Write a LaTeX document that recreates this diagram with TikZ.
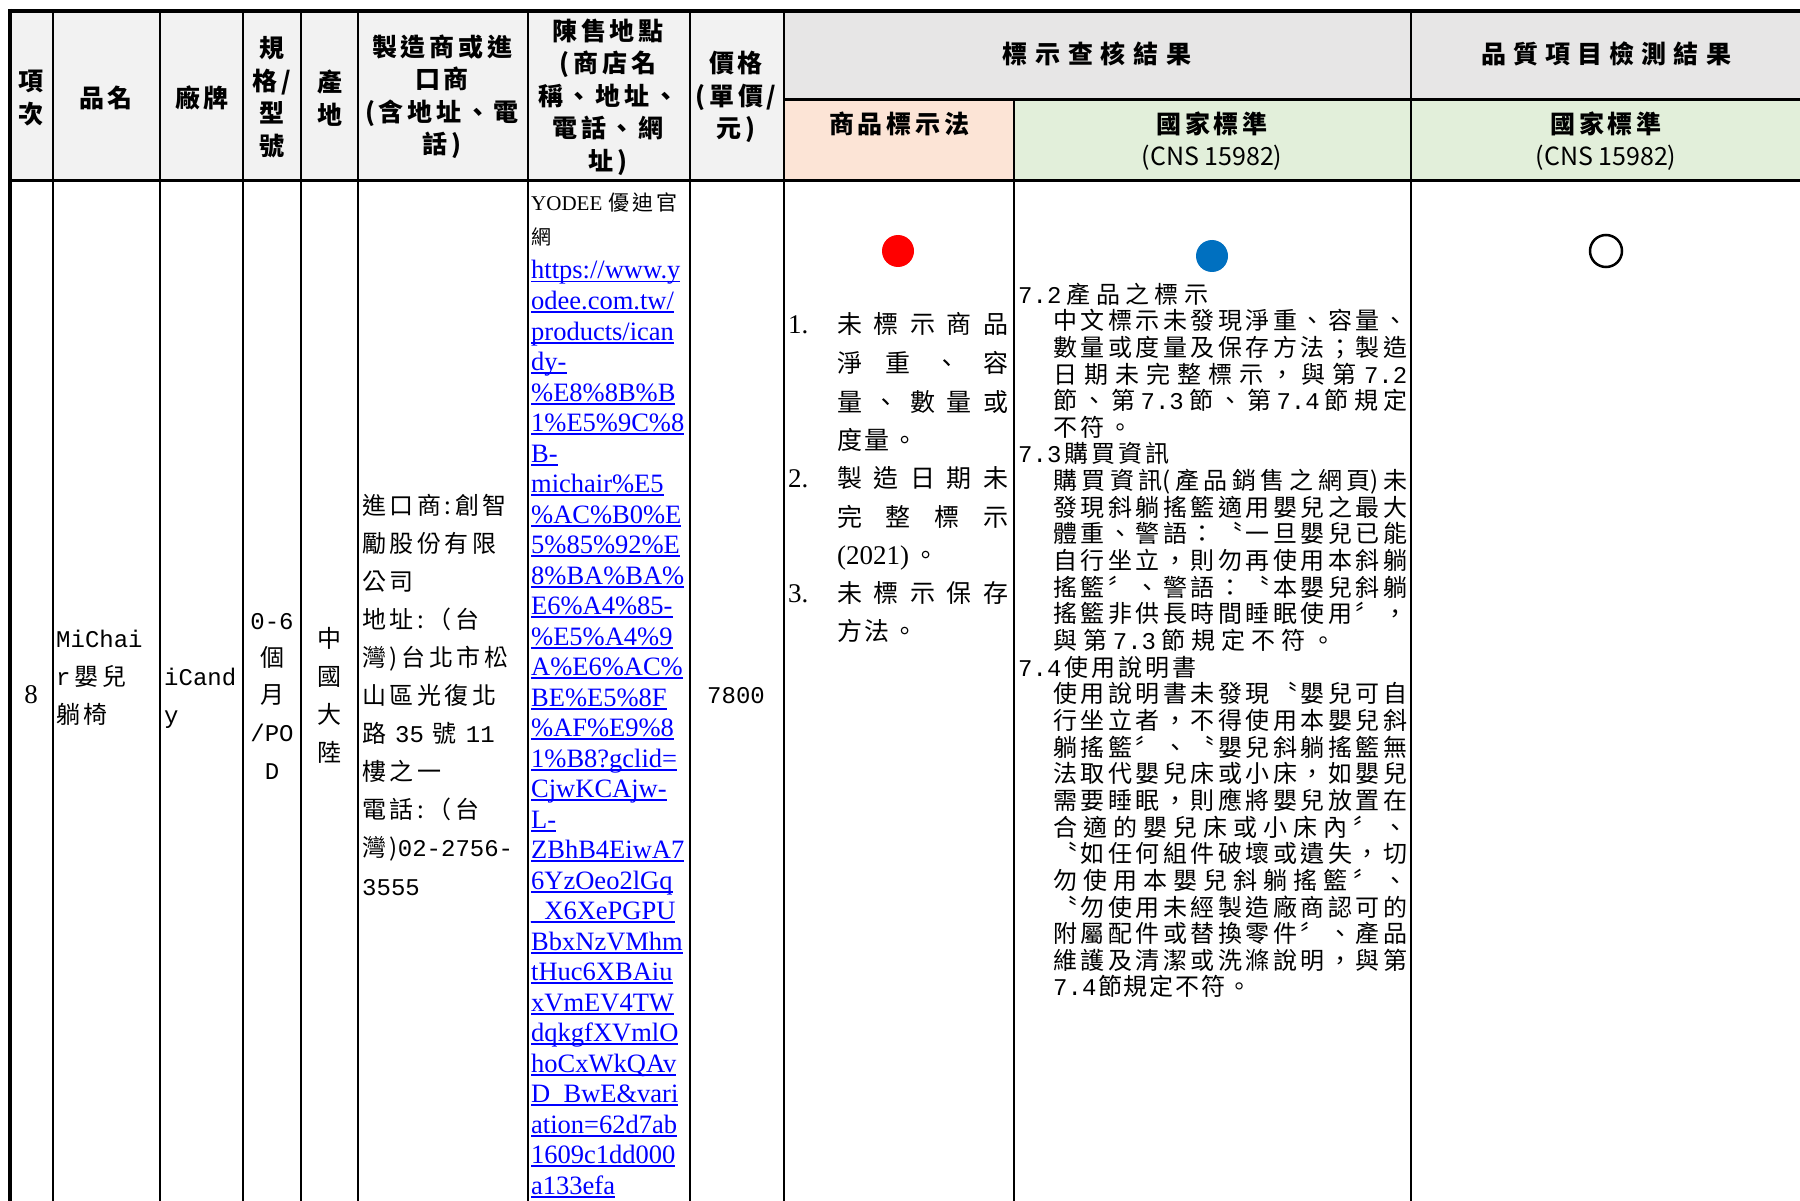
\documentclass[tikz,border=0pt]{standalone}
\usepackage{fontspec}
\setmainfont{Liberation Serif}
\newfontfamily\cjk{Noto Sans CJK TC}
\newfontfamily\cjks[LetterSpace=15]{Noto Sans CJK TC}
\newfontfamily\mono{Liberation Mono}
\definecolor{hdgray}{HTML}{F2F2F2}
\definecolor{topgray}{HTML}{E7E6E6}
\definecolor{lawpeach}{HTML}{FCE4D6}
\definecolor{cnsgreen}{HTML}{E2EFDA}
\definecolor{dotred}{HTML}{FF0000}
\definecolor{dotblue}{HTML}{0070C0}
\definecolor{linkblue}{HTML}{0000FF}
\def\sprd#1{\sprdB#1\relax}
\def\sprdB#1{{#1}\sprdA}
\def\sprdA#1{\ifx\relax#1\else\hfill{#1}\expandafter\sprdA\fi}
\newcommand\jl[2]{\hbox to #1pt{\sprd{#2}}}
\newcommand\ulink[1]{\setbox0\hbox{#1}\rlap{\rule[-3.5pt]{\wd0}{1.6pt}}\box0}

\begin{document}
\begin{tikzpicture}[x=1pt,y=-1pt,
  grid/.style={line width=2pt},
  frame/.style={line width=4pt},
  rule/.style={line width=3pt},
  hd/.style={font=\cjks\bfseries\fontsize{25}{32.5}\selectfont,align=center,inner sep=0pt},
  ming/.style={font=\cjks\fontsize{24}{30}\selectfont,anchor=base west,inner sep=0pt},
  just/.style={font=\cjk\fontsize{24}{30}\selectfont,anchor=base west,inner sep=0pt},
  lawtxt/.style={font=\cjk\fontsize{25}{30}\selectfont,anchor=base west,inner sep=0pt},
  roman/.style={font=\fontsize{27}{30}\selectfont,anchor=base west,inner sep=0pt},
  link/.style={font=\fontsize{26.5}{30}\selectfont,text=linkblue,anchor=base west,inner sep=0pt},
  dotmark/.style={circle,minimum size=32pt,inner sep=0pt}]
\useasboundingbox (0,0) rectangle (1800,1201);
\fill[white] (0,0) rectangle (1800,1201);
\fill[hdgray] (10,11) rectangle (784,181);
\fill[topgray] (784,11) rectangle (1800,100);
\fill[lawpeach] (784,100) rectangle (1014,181);
\fill[cnsgreen] (1014,100) rectangle (1800,181);

\node[hd] (h-no) at (31,98) {項\\次};
\node[hd] (h-name) at (106,98) {品名};
\node[hd] (h-brand) at (202,98) {廠牌};
\node[hd] (h-spec) at (272,97) {規\\格/\\型\\號};
\node[hd] (h-origin) at (330,98) {產\\地};
\node[hd] (h-maker) at (442,97) {製造商或進\\口商\\(含地址、電\\話)};
\node[hd] (h-shop) at (608,97) {陳售地點\\(商店名\\稱、地址、\\電話、網\\址)};
\node[hd] (h-price) at (736,97) {價格\\(單價/\\元)};
\node[hd] (h-label) at (1097,54) {\jl{189}{標示查核結果}};
\node[hd] (h-quality) at (1606,54) {\jl{250}{品質項目檢測結果}};
\node[hd] (h-law) at (899,124) {商品標示法};
\node[hd] (h-cns) at (1212,141) {國家標準\\{\cjk\mdseries (CNS 15982)}};
\node[hd] (h-qcns) at (1606,141) {國家標準\\{\cjk\mdseries (CNS 15982)}};

\node[roman,anchor=base] (no) at (31,703) {8};
\node[ming] (name-1) at (56,647) {\mono MiChai};
\node[ming] (name-2) at (56,685) {{\mono r}\hspace{4pt}嬰兒};
\node[ming] (name-3) at (56,723) {躺椅};
\node[ming] (brand-1) at (164,685) {\mono iCand};
\node[ming] (brand-2) at (164,723) {\mono y};
\node[ming,anchor=base] (spec-1) at (272,629) {\mono 0-6};
\node[ming,anchor=base] (spec-2) at (272,666) {個};
\node[ming,anchor=base] (spec-3) at (272,703) {月};
\node[ming,anchor=base] (spec-4) at (272,741) {\mono /PO};
\node[ming,anchor=base] (spec-5) at (272,779) {\mono D};
\node[ming,anchor=base] (origin-1) at (329,647) {中};
\node[ming,anchor=base] (origin-2) at (329,685) {國};
\node[ming,anchor=base] (origin-3) at (329,723) {大};
\node[ming,anchor=base] (origin-4) at (329,761) {陸};
\foreach \t [count=\i from 0] in {進口商:創智, 勵股份有限, 公司, 地址:（台,
    灣)台北市松, 山區光復北, 路 {\mono 35} 號 {\mono 11}, 樓之一, 電話:（台,
    灣){\mono 02-2756-}, {\mono 3555}}
  \node[ming] (maker-\i) at (362,514+38.1*\i) {\t};

\node[ming,font=\cjks\fontsize{21}{24}\selectfont] (shop-1) at (531,211) {{\rmfamily\fontsize{21}{24}\selectfont YODEE}\hspace{6pt}優迪官};
\node[ming,font=\cjk\fontsize{20}{22}\selectfont] (shop-2) at (531,245) {網};
\foreach \seg [count=\i from 0] in {https://www.y, odee.com.tw/, products/ican, dy-,
    \%E8\%8B\%B, 1\%E5\%9C\%8, B-, michair\%E5, \%AC\%B0\%E, 5\%85\%92\%E,
    8\%BA\%BA\%, E6\%A4\%85-, \%E5\%A4\%9, A\%E6\%AC\%, BE\%E5\%8F,
    \%AF\%E9\%8, 1\%B8?gclid=, CjwKCAjw-, L-, ZBhB4EiwA7, 6YzOeo2lGq,
    \_X6XePGPU, BbxNzVMhm, tHuc6XBAiu, xVmEV4TW, dqkgfXVmlO, hoCxWkQAv,
    D\_BwE\&vari, ation=62d7ab, 1609c1dd000, a133efa}
  \node[link] (url-\i) at (531,279+30.5*\i) {\ulink{\seg}};

\node[ming,anchor=base] (price) at (736,703) {\mono 7800};

\node[dotmark,fill=dotred] (law-mark) at (898,251) {};
\node[roman] (law-n1) at (788,334) {1.};
\node[lawtxt] (law-1) at (837,334) {\jl{171}{未標示商品}};
\node[lawtxt] (law-2) at (837,372) {\jl{171}{淨重、容}};
\node[lawtxt] (law-3) at (837,411) {\jl{171}{量、數量或}};
\node[lawtxt] (law-4) at (837,449) {\jl{80}{度量。}};
\node[roman] (law-n2) at (788,487) {2.};
\node[lawtxt] (law-5) at (837,487) {\jl{171}{製造日期未}};
\node[lawtxt] (law-6) at (837,526) {\jl{171}{完整標示}};
\node[lawtxt] (law-7) at (837,564) {{\rmfamily\fontsize{27}{30}\selectfont(2021)}\hspace{4pt}。};
\node[roman] (law-n3) at (788,602) {3.};
\node[lawtxt] (law-8) at (837,602) {\jl{171}{未標示保存}};
\node[lawtxt] (law-9) at (837,640) {\jl{80}{方法。}};

\node[dotmark,fill=dotblue] (cns-mark) at (1212,256) {};
\node[just] (cns-0) at (1018,303) {\jl{190}{{\mono 7.2}產品之標示}};
\node[just] (cns-1) at (1053,329.7) {\jl{354}{中文標示未發現淨重、容量、}};
\node[just] (cns-2) at (1053,356.3) {\jl{354}{數量或度量及保存方法；製造}};
\node[just] (cns-3) at (1053,383) {\jl{354}{日期未完整標示，與第{\mono 7.2}}};
\node[just] (cns-4) at (1053,409.6) {\jl{354}{節、第{\mono 7.3}節、第{\mono 7.4}節規定}};
\node[just] (cns-5) at (1053,436.3) {\jl{79}{不符。}};
\node[just] (cns-6) at (1018,462.9) {\jl{151}{{\mono 7.3}購買資訊}};
\node[just] (cns-7) at (1053,489.6) {\jl{354}{購買資{訊(}產品銷售之網{頁)}未}};
\node[just] (cns-8) at (1053,516.2) {\jl{354}{發現斜躺搖籃適用嬰兒之最大}};
\node[just] (cns-9) at (1053,542.9) {\jl{354}{體重、警語：〝一旦嬰兒已能}};
\node[just] (cns-10) at (1053,569.5) {\jl{354}{自行坐立，則勿再使用本斜躺}};
\node[just] (cns-11) at (1053,596.2) {\jl{354}{搖籃〞、警語：〝本嬰兒斜躺}};
\node[just] (cns-12) at (1053,622.8) {\jl{354}{搖籃非供長時間睡眠使用〞，}};
\node[just] (cns-13) at (1053,649.5) {\jl{282}{與第{\mono 7.3}節規定不符。}};
\node[just] (cns-14) at (1018,676.1) {\jl{178}{{\mono 7.4}使用說明書}};
\node[just] (cns-15) at (1053,702.8) {\jl{354}{使用說明書未發現〝嬰兒可自}};
\node[just] (cns-16) at (1053,729.4) {\jl{354}{行坐立者，不得使用本嬰兒斜}};
\node[just] (cns-17) at (1053,756.1) {\jl{354}{躺搖籃〞、〝嬰兒斜躺搖籃無}};
\node[just] (cns-18) at (1053,782.7) {\jl{354}{法取代嬰兒床或小床，如嬰兒}};
\node[just] (cns-19) at (1053,809.4) {\jl{354}{需要睡眠，則應將嬰兒放置在}};
\node[just] (cns-20) at (1053,836) {\jl{354}{合適的嬰兒床或小床內〞、}};
\node[just] (cns-21) at (1053,862.7) {\jl{354}{〝如任何組件破壞或遺失，切}};
\node[just] (cns-22) at (1053,889.3) {\jl{354}{勿使用本嬰兒斜躺搖籃〞、}};
\node[just] (cns-23) at (1053,916) {\jl{354}{〝勿使用未經製造廠商認可的}};
\node[just] (cns-24) at (1053,942.6) {\jl{354}{附屬配件或替換零件〞、產品}};
\node[just] (cns-25) at (1053,969.3) {\jl{354}{維護及清潔或洗滌說明，與第}};
\node[just] (cns-26) at (1053,995.9) {\jl{198}{{\mono 7.4}節規定不符。}};

\node[dotmark,draw,line width=2.5pt] (qc-mark) at (1606,251) {};

\foreach \x in {53,160,243,301,358,528,690,784,1411}
  \draw[grid] (\x,11) -- (\x,1201);
\draw[grid] (1014,100) -- (1014,1201);
\draw[rule] (784,100) -- (1800,100);
\draw[rule] (10,181) -- (1800,181);
\draw[frame] (8,11) -- (1800,11);
\draw[frame] (10,9) -- (10,1201);
\end{tikzpicture}
\end{document}
